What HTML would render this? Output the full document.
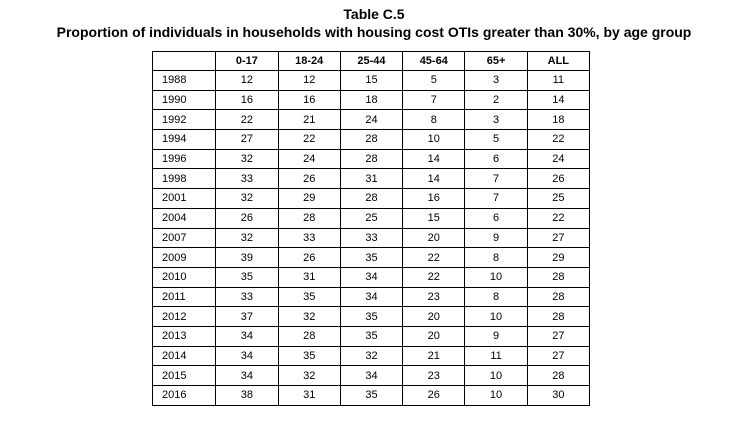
<!DOCTYPE html>
<html><head><meta charset="utf-8"><style>
body{margin:0;width:748px;height:426px;background:#fff;font-family:"Liberation Sans",Arial,sans-serif;position:relative;overflow:hidden}
.t{position:absolute;left:0;width:748px;text-align:center;font-weight:bold;font-size:14px;color:#000}
table{position:absolute;left:152px;top:51px;border-collapse:collapse;font-size:11px;color:#000;table-layout:fixed;width:438px}
td,th{border:1px solid #000;padding:0;height:18.7px;text-align:center;overflow:hidden}
th{font-weight:bold;height:18px}
td.y,th.y{text-align:left;padding-left:9px}
</style></head><body>
<div class="t" style="top:6px">Table C.5</div>
<div class="t" style="top:24px">Proportion of individuals in households with housing cost OTIs greater than 30%, by age group</div>
<table>
<colgroup><col style="width:63px"><col style="width:62px"><col style="width:62px"><col style="width:62px"><col style="width:62px"><col style="width:62px"><col style="width:62px"></colgroup>
<tr><th class="y"></th><th>0-17</th><th>18-24</th><th>25-44</th><th>45-64</th><th>65+</th><th>ALL</th></tr>
<tr><td class="y">1988</td><td>12</td><td>12</td><td>15</td><td>5</td><td>3</td><td>11</td></tr>
<tr><td class="y">1990</td><td>16</td><td>16</td><td>18</td><td>7</td><td>2</td><td>14</td></tr>
<tr><td class="y">1992</td><td>22</td><td>21</td><td>24</td><td>8</td><td>3</td><td>18</td></tr>
<tr><td class="y">1994</td><td>27</td><td>22</td><td>28</td><td>10</td><td>5</td><td>22</td></tr>
<tr><td class="y">1996</td><td>32</td><td>24</td><td>28</td><td>14</td><td>6</td><td>24</td></tr>
<tr><td class="y">1998</td><td>33</td><td>26</td><td>31</td><td>14</td><td>7</td><td>26</td></tr>
<tr><td class="y">2001</td><td>32</td><td>29</td><td>28</td><td>16</td><td>7</td><td>25</td></tr>
<tr><td class="y">2004</td><td>26</td><td>28</td><td>25</td><td>15</td><td>6</td><td>22</td></tr>
<tr><td class="y">2007</td><td>32</td><td>33</td><td>33</td><td>20</td><td>9</td><td>27</td></tr>
<tr><td class="y">2009</td><td>39</td><td>26</td><td>35</td><td>22</td><td>8</td><td>29</td></tr>
<tr><td class="y">2010</td><td>35</td><td>31</td><td>34</td><td>22</td><td>10</td><td>28</td></tr>
<tr><td class="y">2011</td><td>33</td><td>35</td><td>34</td><td>23</td><td>8</td><td>28</td></tr>
<tr><td class="y">2012</td><td>37</td><td>32</td><td>35</td><td>20</td><td>10</td><td>28</td></tr>
<tr><td class="y">2013</td><td>34</td><td>28</td><td>35</td><td>20</td><td>9</td><td>27</td></tr>
<tr><td class="y">2014</td><td>34</td><td>35</td><td>32</td><td>21</td><td>11</td><td>27</td></tr>
<tr><td class="y">2015</td><td>34</td><td>32</td><td>34</td><td>23</td><td>10</td><td>28</td></tr>
<tr><td class="y">2016</td><td>38</td><td>31</td><td>35</td><td>26</td><td>10</td><td>30</td></tr>
</table>
</body></html>
